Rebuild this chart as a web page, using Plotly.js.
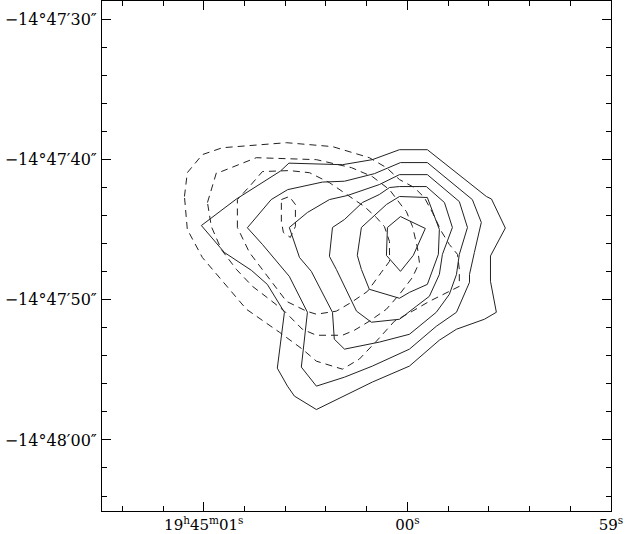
<!DOCTYPE html>
<html>
<head>
<meta charset="utf-8">
<script src="https://cdn.plot.ly/plotly-3.0.1.min.js"></script>
<style>
  html, body { margin: 0; padding: 0; background: #fff; }
  #chart { width: 625px; height: 534px; }
</style>
</head>
<body>
<div id="chart"></div>
<script>
// Contour map: RA in seconds past 19h45m00s, Dec in arcsec past -14°47'00"

// solid contours (outer to inner)
const solid1X = [1.012, 0.840, 0.624, 0.582, 0.319, 0.172, 0.039, -0.098, -0.388, -0.413, -0.481, -0.408, -0.408, -0.437, -0.378, -0.241, -0.157, -0.010, 0.172, 0.309, 0.447, 0.555, 0.589, 0.639, 0.619, 0.604, 0.688, 0.766, 0.899, 1.012];
const solid1Y = [-44.70, -42.81, -40.82, -40.25, -40.36, -40.00, -39.29, -39.29, -42.63, -42.81, -44.88, -46.87, -48.68, -50.89, -51.39, -52.10, -52.88, -54.73, -55.87, -56.87, -57.83, -56.87, -56.16, -54.88, -52.60, -50.89, -48.90, -47.90, -46.62, -44.70];

const solid2X = [0.786, 0.669, 0.588, 0.417, 0.309, 0.162, 0.034, -0.098, -0.319, -0.363, -0.329, -0.305, -0.305, -0.241, -0.142, -0.010, 0.172, 0.309, 0.447, 0.521, 0.491, 0.580, 0.712, 0.786];
const solid2Y = [-44.86, -42.85, -42.14, -41.60, -41.54, -41.00, -40.21, -40.21, -42.85, -44.48, -46.62, -48.19, -48.75, -50.89, -51.89, -53.52, -54.73, -55.52, -56.16, -54.80, -50.89, -48.33, -46.05, -44.86];

const solid3X = [0.580, 0.491, 0.383, 0.295, 0.138, 0.039, -0.098, -0.255, -0.295, -0.255, -0.241, -0.206, -0.142, -0.010, 0.138, 0.309, 0.359, 0.368, 0.472, 0.530, 0.580];
const solid3Y = [-44.84, -43.77, -42.85, -42.56, -41.78, -41.07, -41.07, -42.99, -44.84, -46.76, -48.19, -49.61, -50.89, -52.46, -53.02, -53.52, -52.81, -50.89, -47.97, -46.98, -44.84];

const solid4X = [0.368, 0.309, 0.221, 0.138, 0.088, 0.039, -0.093, -0.182, -0.221, -0.172, -0.157, -0.108, -0.044, 0.039, 0.177, 0.250, 0.349, 0.383, 0.368];
const solid4Y = [-44.84, -44.27, -43.06, -42.49, -41.99, -41.92, -41.92, -43.06, -44.84, -46.76, -48.19, -49.75, -50.46, -51.39, -51.60, -50.81, -47.83, -46.90, -44.84];

const solid5X = [0.226, 0.103, 0.039, -0.098, -0.157, -0.152, -0.098, -0.010, 0.039, 0.187, 0.226, 0.246, 0.226];
const solid5Y = [-44.84, -43.20, -42.63, -42.70, -44.98, -46.76, -48.90, -49.47, -49.89, -49.25, -47.83, -46.83, -44.84];

const solid6X = [0.098, 0.034, -0.088, -0.029, 0.034, 0.103, 0.098];
const solid6Y = [-44.84, -44.06, -44.91, -46.83, -47.97, -46.83, -44.84];

// dashed contours (outer to inner)
const dashed1X = [1.095, 1.081, 1.007, 0.909, 0.594, 0.368, 0.187, 0.103, 0.039, -0.034, -0.083, -0.123, -0.167, -0.206, -0.246, -0.255, -0.255, -0.206, -0.108, -0.025, 0.064, 0.152, 0.236, 0.319, 0.447, 0.516, 0.629, 0.791, 0.923, 1.007, 1.081, 1.095];
const dashed1Y = [-42.63, -40.93, -39.64, -39.15, -38.79, -39.07, -39.86, -40.57, -41.42, -41.99, -42.70, -43.77, -45.12, -46.05, -46.76, -47.83, -49.04, -49.40, -50.11, -50.81, -51.53, -52.95, -54.23, -54.95, -54.38, -53.52, -52.31, -50.67, -48.40, -46.98, -44.98, -42.63];

const dashed2X = [0.982, 0.938, 0.914, 0.742, 0.447, 0.275, 0.172, 0.088, 0.025, 0.005, -0.025, -0.049, -0.059, -0.025, 0.039, 0.103, 0.187, 0.260, 0.319, 0.447, 0.516, 0.604, 0.678, 0.761, 0.840, 0.914, 0.963, 0.982];
const dashed2Y = [-43.06, -40.93, -40.85, -39.86, -40.00, -40.57, -41.21, -42.14, -43.35, -43.70, -44.77, -46.26, -47.33, -48.40, -49.61, -50.67, -51.53, -52.17, -52.53, -52.53, -52.10, -50.81, -49.96, -49.04, -47.83, -46.41, -44.77, -43.06];

const dashed3X = [0.835, 0.835, 0.776, 0.712, 0.580, 0.481, 0.383, 0.295, 0.211, 0.152, 0.113, 0.088, 0.088, 0.128, 0.196, 0.275, 0.349, 0.447, 0.496, 0.594, 0.668, 0.727, 0.776, 0.835];
const dashed3Y = [-44.84, -42.85, -41.92, -40.85, -40.78, -40.93, -41.64, -42.49, -43.35, -44.13, -44.77, -45.84, -47.26, -48.04, -49.40, -50.18, -50.81, -51.03, -50.81, -50.11, -48.68, -47.62, -46.62, -44.84];

const dashed4X = [0.619, 0.580, 0.550, 0.550, 0.575, 0.609, 0.619, 0.619];
const dashed4Y = [-42.85, -42.63, -43.20, -44.77, -45.55, -45.20, -44.41, -42.85];

// axis ticks
const raTickVals = [1, 0, -1];
const raTickText = ['19<sup>h</sup>45<sup>m</sup>01<sup>s</sup>', '00<sup>s</sup>', '59<sup>s</sup>'];
const decTickVals = [-30, -40, -50, -60];
const decTickText = ['\u221214\u00b047\u203230\u2033', '\u221214\u00b047\u203240\u2033', '\u221214\u00b047\u203250\u2033', '\u221214\u00b048\u203200\u2033'];

const solidSets = [
    [solid1X, solid1Y], [solid2X, solid2Y], [solid3X, solid3Y],
    [solid4X, solid4Y], [solid5X, solid5Y], [solid6X, solid6Y]
];
const dashedSets = [
    [dashed1X, dashed1Y], [dashed2X, dashed2Y], [dashed3X, dashed3Y], [dashed4X, dashed4Y]
];

const traces = [];
solidSets.forEach(([x, y]) => {
    traces.push({
        x: x, y: y, type: 'scatter', mode: 'lines',
        line: { color: '#222', width: 1 },
        hoverinfo: 'skip'
    });
});
dashedSets.forEach(([x, y]) => {
    traces.push({
        x: x, y: y, type: 'scatter', mode: 'lines',
        line: { color: '#222', width: 1, dash: '7px,5px' },
        hoverinfo: 'skip'
    });
});

const layout = {
    width: 625,
    height: 534,
    showlegend: false,
    margin: { l: 102, r: 14, t: 1, b: 23 },
    paper_bgcolor: '#fff',
    plot_bgcolor: '#fff',
    xaxis: {
        range: [1.5, -1.0],
        tickmode: 'array',
        tickvals: raTickVals,
        ticktext: raTickText,
        ticks: 'inside',
        ticklen: 9,
        tickwidth: 1,
        tickcolor: '#000',
        minor: { dtick: 0.2, tick0: 0, ticks: 'inside', ticklen: 5, tickcolor: '#000', showgrid: false },
        showline: true,
        linecolor: '#000',
        linewidth: 1,
        mirror: 'allticks',
        showgrid: false,
        zeroline: false,
        tickfont: { family: 'DejaVu Serif, serif', size: 15, color: '#000' }
    },
    yaxis: {
        range: [-65.07, -28.68],
        tickmode: 'array',
        tickvals: decTickVals,
        ticktext: decTickText,
        ticks: 'inside',
        ticklen: 9,
        tickwidth: 1,
        tickcolor: '#000',
        ticklabelstandoff: 1,
        minor: { dtick: 2, tick0: 0, ticks: 'inside', ticklen: 5, tickcolor: '#000', showgrid: false },
        showline: true,
        linecolor: '#000',
        linewidth: 1,
        mirror: 'allticks',
        showgrid: false,
        zeroline: false,
        tickfont: { family: 'DejaVu Serif, serif', size: 16, color: '#000' }
    }
};

Plotly.newPlot('chart', traces, layout, { staticPlot: true, displayModeBar: false });
</script>
</body>
</html>
